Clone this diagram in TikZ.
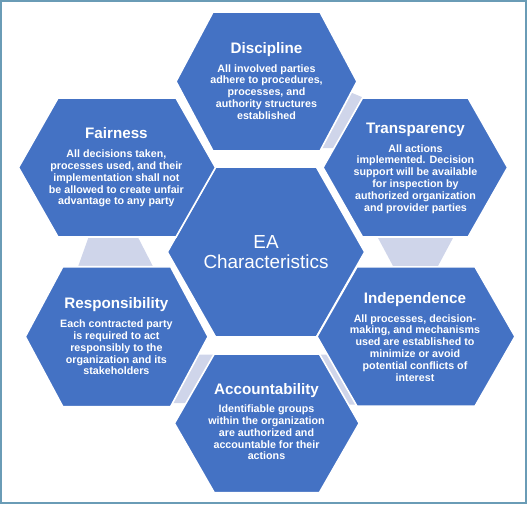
\documentclass[tikz,border=0pt]{standalone}
\usepackage{fontspec}
\setmainfont{Liberation Sans}
\usetikzlibrary{positioning}
\definecolor{HexBlue}{HTML}{4472C4}
\definecolor{HexLink}{HTML}{CFD5EA}
\definecolor{HexFrame}{HTML}{6A9CB6}
% centre, half width, half height, slant
\newcommand{\hexshape}[4]{%
  \path[hexcell] (#1) ++(-#2,0) -- ++(#4,-#3) -- ++({2*#2-2*#4},0)
    -- ++(#4,#3) -- ++(-#4,#3) -- ++({-2*#2+2*#4},0) -- cycle;}
\begin{document}
\begin{tikzpicture}[x=0.5pt,y=-0.5pt,node distance=3.6pt]
  \tikzstyle{hexcell}=[fill=HexBlue,draw=white,line width=0.8pt]
  \tikzstyle{hexlink}=[fill=HexLink]
  \tikzstyle{hexhead}=[text=white,inner sep=0pt,text height=5.5pt,text depth=1.6pt,
    font=\bfseries\fontsize{7.6}{9}\selectfont]
  \tikzstyle{hexbody}=[text=white,inner sep=0pt,align=center,
    font=\bfseries\fontsize{5.35}{5.9}\selectfont]
  \tikzstyle{hexcore}=[text=white,inner sep=0pt,align=center,
    font=\fontsize{9.45}{10}\selectfont]
  \useasboundingbox (0,0) rectangle (528,504);
  \draw[HexFrame,line width=1pt] (1,1) rectangle (525.5,502.5);
  % centres of the cells
  \coordinate (core) at (266,252);
  \coordinate (disc) at (266.5,81.5);
  \coordinate (fair) at (117,167.5);
  \coordinate (tran) at (415.3,167.5);
  \coordinate (resp) at (116.7,336.7);
  \coordinate (inde) at (416,336.5);
  \coordinate (acco) at (266.8,423.3);
  % links between neighbours
  \fill[hexlink] (345,90) -- (363,97.5) -- (347,148) -- (310,148) -- cycle;
  \fill[hexlink] (375.9,234) -- (455.1,234) -- (436.4,269) -- (394.6,269) -- cycle;
  \fill[hexlink] (315,354.5) -- (332,354.5) -- (362,404.5) -- (343,404.5) -- cycle;
  \fill[hexlink] (192,354.5) -- (214,354.5) -- (192,403) -- (166,403) -- cycle;
  \fill[hexlink] (89.7,234) -- (136.3,234) -- (154.3,269) -- (77.2,269) -- cycle;
  % cells
  \hexshape{core}{98.7}{85}{48.3}
  \hexshape{disc}{90.5}{69.5}{37}
  \hexshape{fair}{98.5}{69.5}{39.5}
  \hexshape{tran}{92.3}{69.5}{39.5}
  \hexshape{resp}{91.4}{70}{37.5}
  \hexshape{inde}{99}{69.7}{40}
  \hexshape{acco}{92.4}{69.3}{39.8}
  % texts
  \node[hexcore] (core-text) at (266,251.7) {EA\\Characteristics};
  \node[hexhead] (disc-head) at (266.5,49.2) {Discipline};
  \node[hexbody,below=of disc-head] (disc-body) {All involved parties\\adhere to procedures,\\processes, and\\authority structures\\established};
  \node[hexhead] (fair-head) at (116.4,134.8) {Fairness};
  \node[hexbody,below=of fair-head] (fair-body) {All decisions taken,\\processes used, and their\\implementation shall not\\be allowed to create unfair\\advantage to any party};
  \node[hexhead] (tran-head) at (415.5,129.2) {Transparency};
  \node[hexbody,below=of tran-head] (tran-body) {All actions\\implemented. Decision\\support will be available\\for inspection by\\authorized organization\\and provider parties};
  \node[hexhead] (resp-head) at (116.4,304.8) {Responsibility};
  \node[hexbody,below=of resp-head] (resp-body) {Each contracted party\\is required to act\\responsibly to the\\organization and its\\stakeholders};
  \node[hexhead] (inde-head) at (415,299.2) {Independence};
  \node[hexbody,below=of inde-head] (inde-body) {All processes, decision-\\making, and mechanisms\\used are established to\\minimize or avoid\\potential conflicts of\\interest};
  \node[hexhead] (acco-head) at (266.5,390.8) {Accountability};
  \node[hexbody,below=3.1pt of acco-head] (acco-body) {Identifiable groups\\within the organization\\are authorized and\\accountable for their\\actions};
\end{tikzpicture}
\end{document}
